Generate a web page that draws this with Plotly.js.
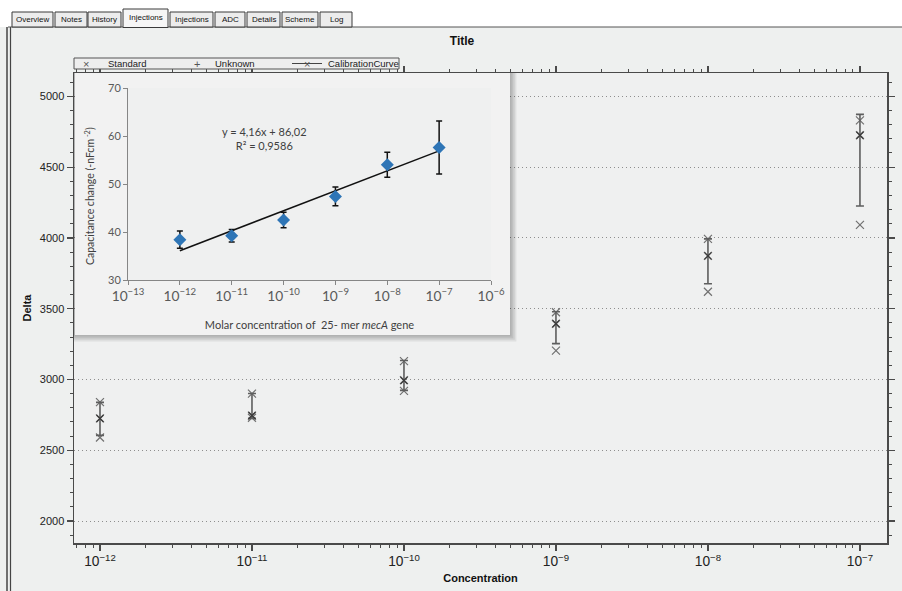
<!DOCTYPE html>
<html><head><meta charset="utf-8">
<script src="https://cdn.plot.ly/plotly-3.0.1.min.js"></script>
<style>html,body{margin:0;padding:0;background:#eef0ef;}#chart{width:902px;height:591px;}</style>
</head><body><div id="chart"></div>
<script>
// ---------- data: main chart ----------
const concentrations = [1e-12, 1e-11, 1e-10, 1e-9, 1e-8, 1e-7];
const standardDelta = [
  2840, 2725, 2590,
  2900, 2745, 2730,
  3130, 2995, 2920,
  3475, 3394, 3204,
  3993, 3873, 3620,
  4830, 4725, 4092
];
const calibrationDelta = [2725, 2746, 2993, 3394, 3873, 4725];
const calibrationErrPlus = [113, 155, 141, 85, 120, 148];
const calibrationErrMinus = [120, 21, 70, 141, 197, 500];
const legendNames = ['Standard', 'Unknown', 'CalibrationCurve'];
const tabLabels = ['Overview', 'Notes', 'History', 'Injections', 'Injections', 'ADC', 'Details', 'Scheme', 'Log'];
const chartTitle = 'Title';
const xTitle = 'Concentration';
const yTitle = 'Delta';

// ---------- data: inset chart ----------
const insetConc = [1e-12, 1e-11, 1e-10, 1e-9, 1e-8, 1e-7];
const insetCapacitance = [38.4, 39.2, 42.5, 47.4, 54.0, 57.6];
const insetError = [1.8, 1.3, 1.6, 1.95, 2.6, 5.5];
const fitConc = [1e-12, 1e-7];
const fitCapacitance = [36.1, 56.9];
const fitText = 'y = 4,16x + 86,02<br>R² = 0,9586';
const insetXTitle = 'Molar concentration of  25- mer <i>mecA</i> gene';
const insetYTitle = 'Capacitance change (-nFcm<sup> -2</sup>)';

// ---------- geometry helpers ----------
const PL = 74, PR = 887, PT = 73, PB = 543;
const XR = [-12.171, -6.822], YR = [1845, 5165];
const px = v => (v - PL) / (PR - PL);
const py = v => (PB - v) / (PB - PT);
const xd = v => Math.pow(10, XR[0] + (v - PL) / (PR - PL) * (XR[1] - XR[0]));
const yd = v => YR[0] + (PB - v) / (PB - PT) * (YR[1] - YR[0]);

const standardConc = concentrations.flatMap(c => [c, c, c]);

const traces = [
  {
    x: standardConc, y: standardDelta, type: 'scatter', mode: 'markers',
    name: legendNames[0], showlegend: false, xaxis: 'x', yaxis: 'y',
    marker: {symbol: 'x-thin-open', size: 8, color: '#707070', line: {color: '#707070', width: 1.2}}
  },
  {
    x: concentrations, y: calibrationDelta, type: 'scatter', mode: 'markers',
    name: legendNames[2], showlegend: false, xaxis: 'x', yaxis: 'y',
    marker: {symbol: 'x-thin-open', size: 7, color: '#3c3c3c', line: {color: '#3c3c3c', width: 1.3}},
    error_y: {type: 'data', symmetric: false, array: calibrationErrPlus, arrayminus: calibrationErrMinus,
              color: '#5e5e5e', thickness: 1.6, width: 4}
  },
  {
    x: fitConc, y: fitCapacitance, type: 'scatter', mode: 'lines', showlegend: false,
    xaxis: 'x2', yaxis: 'y2', line: {color: '#111', width: 1.5}
  },
  {
    x: insetConc, y: insetCapacitance, type: 'scatter', mode: 'markers', showlegend: false,
    xaxis: 'x2', yaxis: 'y2',
    marker: {symbol: 'diamond', size: 10, color: '#2e75b6'},
    error_y: {type: 'data', array: insetError, color: '#111', thickness: 1.5, width: 3}
  }
];

const shapes = [];
const annotations = [];

// top white strip and frame
shapes.push({type: 'rect', xref: 'paper', yref: 'paper', x0: px(0), x1: px(902), y0: py(27), y1: py(0),
  fillcolor: '#ffffff', line: {width: 0}, layer: 'below'});
shapes.push({type: 'line', xref: 'paper', yref: 'paper', x0: px(8), x1: px(902), y0: py(27), y1: py(27),
  line: {color: '#555', width: 1}});
shapes.push({type: 'line', xref: 'paper', yref: 'paper', x0: px(7), x1: px(7), y0: py(27), y1: py(591),
  line: {color: '#444', width: 1.5}});
shapes.push({type: 'line', xref: 'paper', yref: 'paper', x0: px(10.5), x1: px(10.5), y0: py(27), y1: py(591),
  line: {color: '#444', width: 1.2}});

// tabs
const tabEdges = [[12, 53], [55, 87], [88, 121], [123, 168], [170, 213], [215, 245], [247, 280], [282, 318], [320, 352]];
tabLabels.forEach((t, i) => {
  const active = i === 3;
  const e = tabEdges[i];
  shapes.push({type: 'rect', xref: 'paper', yref: 'paper', x0: px(e[0]), x1: px(e[1]),
    y0: py(active ? 27.5 : 27), y1: py(active ? 9 : 12),
    fillcolor: active ? '#f6f6f6' : '#ececec', line: {color: '#3a3a3a', width: 1}});
  annotations.push({xref: 'paper', yref: 'paper', x: px((e[0] + e[1]) / 2), y: py(active ? 17 : 19.5),
    text: t, showarrow: false, xanchor: 'center', yanchor: 'middle',
    font: {family: 'Liberation Sans, Arial', size: 8, color: '#111'}});
});

// inset shadow + background (between grid and traces of main subplot)
for (let i = 4; i >= 1; i--) {
  shapes.push({type: 'rect', xref: 'x', yref: 'y', layer: 'between',
    x0: xd(74), x1: xd(510 + i * 1.6), y0: yd(335 + i * 1.6), y1: yd(73),
    fillcolor: 'rgba(0,0,0,0.07)', line: {width: 0}});
}
shapes.push({type: 'rect', xref: 'x', yref: 'y', layer: 'between',
  x0: xd(75), x1: xd(510), y0: yd(335), y1: yd(73),
  fillcolor: '#f2f2f2', line: {width: 0}});

// manual legend box
shapes.push({type: 'rect', xref: 'paper', yref: 'paper', x0: px(74), x1: px(399), y0: py(69), y1: py(58),
  fillcolor: '#eeeeee', line: {color: '#555', width: 1}});
shapes.push({type: 'line', xref: 'paper', yref: 'paper', x0: px(292), x1: px(322), y0: py(63.5), y1: py(63.5),
  line: {color: '#444', width: 1}});
const legFont = {family: 'Liberation Sans, Arial', size: 9.5, color: '#222'};
const legItems = [
  {sym: '×', sx: 86, tx: 106},
  {sym: '+', sx: 197, tx: 213},
  {sym: '×', sx: 307, tx: 326}
];
legItems.forEach((it, i) => {
  annotations.push({xref: 'paper', yref: 'paper', x: px(it.sx), y: py(63.5), text: it.sym, showarrow: false,
    xanchor: 'center', yanchor: 'middle', font: {family: 'Liberation Sans, Arial', size: 11, color: '#555'}});
  annotations.push({xref: 'paper', yref: 'paper', x: px(it.tx), y: py(63.5), text: legendNames[i], showarrow: false,
    xanchor: 'left', yanchor: 'middle', font: legFont});
});

// fit equation
annotations.push({xref: 'x2', yref: 'y2', x: -10.36, y: 59.5, text: fitText, showarrow: false,
  xanchor: 'center', yanchor: 'middle', align: 'center',
  font: {family: 'Lato, Noto Sans', size: 11, color: '#404040'}});

// inset y title (placed as rotated annotation to match the reference position)
annotations.push({xref: 'paper', yref: 'paper', x: px(89), y: py(196), text: insetYTitle, showarrow: false,
  textangle: -90, xanchor: 'center', yanchor: 'middle',
  font: {family: 'Lato, Noto Sans', size: 10.5, color: '#404040'}});

const mainFont = {family: 'Liberation Sans, Arial', size: 11, color: '#222'};
const insetTickFont = {family: 'Lato, Noto Sans', size: 11, color: '#595959'};

const layout = {
  width: 902, height: 591,
  margin: {l: PL, r: 902 - PR, t: PT, b: 591 - PB},
  paper_bgcolor: '#eef0ef', plot_bgcolor: '#eff0f0',
  showlegend: false, hovermode: false,
  title: {text: '<b>' + chartTitle + '</b>', font: {family: 'Liberation Sans, Arial', size: 12, color: '#111'},
    xref: 'container', x: 462 / 902, xanchor: 'center', yref: 'container', y: 1 - 41 / 591, yanchor: 'middle'},
  xaxis: {
    type: 'log', range: XR, domain: [0, 1], anchor: 'y',
    showline: true, linecolor: '#4a4a4a', linewidth: 1.5, mirror: 'allticks',
    ticks: 'outside', ticklen: 6, tickwidth: 1.2, tickcolor: '#4a4a4a',
    dtick: 1, exponentformat: 'power', showgrid: false, zeroline: false, tickfont: mainFont,
    minor: {ticks: 'outside', ticklen: 3, tickwidth: 1, tickcolor: '#4a4a4a', dtick: 'D1', showgrid: false},
    title: {text: '<b>' + xTitle + '</b>', font: {family: 'Liberation Sans, Arial', size: 11, color: '#111'}, standoff: 6}
  },
  yaxis: {
    range: YR, domain: [0, 1], anchor: 'x',
    showline: true, linecolor: '#4a4a4a', linewidth: 1.5, mirror: 'allticks',
    ticks: 'outside', ticklen: 6, tickwidth: 1.2, tickcolor: '#4a4a4a',
    dtick: 500, tick0: 0, showgrid: true, gridcolor: '#8e8e8e', griddash: '1px,3px', gridwidth: 1,
    zeroline: false, tickfont: mainFont,
    minor: {ticks: 'outside', ticklen: 3, tickwidth: 1, tickcolor: '#4a4a4a', dtick: 100, showgrid: false},
    title: {text: '<b>' + yTitle + '</b>', font: {family: 'Liberation Sans, Arial', size: 11, color: '#111'}, standoff: 6}
  },
  xaxis2: {
    type: 'log', range: [-13, -6], domain: [(128 - PL) / (PR - PL), (491 - PL) / (PR - PL)], anchor: 'y2',
    showline: true, linecolor: '#868686', linewidth: 1,
    ticks: 'outside', ticklen: 4, tickcolor: '#868686', dtick: 1, exponentformat: 'power',
    showgrid: false, zeroline: false, tickfont: insetTickFont,
    title: {text: insetXTitle, font: {family: 'Lato, Noto Sans', size: 11, color: '#404040'}, standoff: 18}
  },
  yaxis2: {
    range: [30, 70], domain: [(PB - 280) / (PB - PT), (PB - 88) / (PB - PT)], anchor: 'x2',
    showline: true, linecolor: '#868686', linewidth: 1,
    ticks: 'outside', ticklen: 4, tickcolor: '#868686', dtick: 10,
    showgrid: false, zeroline: false, tickfont: insetTickFont
  },
  shapes: shapes,
  annotations: annotations
};

Plotly.newPlot('chart', traces, layout, {staticPlot: true, displayModeBar: false});
</script></body></html>
